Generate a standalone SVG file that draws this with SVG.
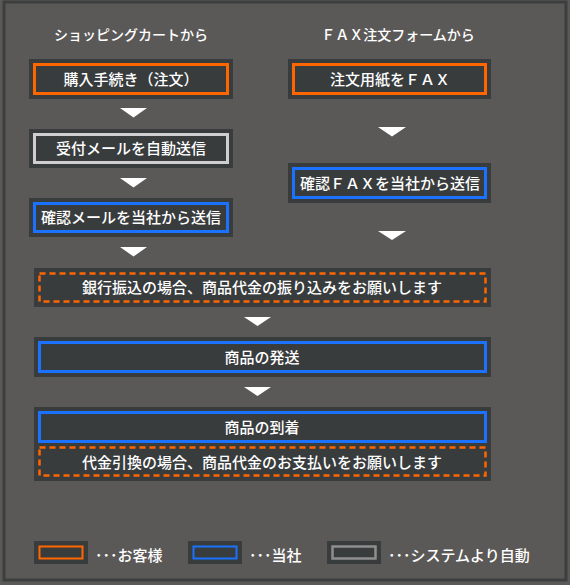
<svg xmlns="http://www.w3.org/2000/svg" width="570" height="585" viewBox="0 0 570 585">
<style>
.bg{fill:#5b5957}
.frame{fill:none;stroke:#3c3e3f;stroke-width:3}
.box{fill:#393c3d}
.o{fill:none;stroke:#ff6600;stroke-width:3}
.od{fill:none;stroke:#ff6600;stroke-width:2.5;stroke-dasharray:6 4}
.b{fill:none;stroke:#1a72ff;stroke-width:3}
.g{fill:none;stroke:#cfcfcf;stroke-width:3}
.lg{fill:none;stroke:#8e8e8e;stroke-width:2.5}
.arr{fill:#ffffff}
text{font-family:"Noto Sans CJK JP","Noto Sans",sans-serif;fill:#ffffff;font-size:15px;font-weight:500;text-anchor:middle}
.t{font-size:14px}
.l{text-anchor:start}
</style>
<rect class="bg" x="0" y="0" width="570" height="585"/>
<rect class="frame" x="4" y="2" width="562" height="578"/>
<text class="t" x="131" y="40">ショッピングカートから</text>
<text class="t" x="398" y="40">ＦＡＸ注文フォームから</text>
<g id="n1"><rect class="box" x="29" y="59" width="204" height="40"/><rect class="o" x="34.5" y="64.5" width="193" height="29"/><text x="131" y="84.5">購入手続き（注文）</text></g>
<g id="n2"><rect class="box" x="29" y="129" width="204" height="39"/><rect class="g" x="34.5" y="134.5" width="193" height="28"/><text x="131" y="154">受付メールを自動送信</text></g>
<g id="n3"><rect class="box" x="29" y="198" width="204" height="39"/><rect class="b" x="34.5" y="203.5" width="193" height="28"/><text x="131" y="223">確認メールを当社から送信</text></g>
<g id="n4"><rect class="box" x="288" y="59" width="203" height="40"/><rect class="o" x="293.5" y="64.5" width="192" height="29"/><text x="390" y="84.5">注文用紙をＦＡＸ</text></g>
<g id="n5"><rect class="box" x="288" y="163" width="203" height="40"/><rect class="b" x="293.5" y="168.5" width="192" height="29"/><text x="390" y="188.5">確認ＦＡＸを当社から送信</text></g>
<g id="n6"><rect class="box" x="34" y="268" width="457" height="39"/><rect class="od" x="39.5" y="273.5" width="446" height="28"/><text x="262" y="293">銀行振込の場合、商品代金の振り込みをお願いします</text></g>
<g id="n7"><rect class="box" x="34" y="337" width="457" height="40"/><rect class="b" x="39.5" y="342.5" width="446" height="29"/><text x="262" y="362.5">商品の発送</text></g>
<g id="n8"><rect class="box" x="34" y="407" width="457" height="74"/><rect class="b" x="39.5" y="412.5" width="446" height="29"/><text x="262" y="432.5">商品の到着</text><rect class="od" x="39.5" y="447.5" width="446" height="28"/><text x="262" y="467.5">代金引換の場合、商品代金のお支払いをお願いします</text></g>
<g id="connectors">
<polygon class="arr" points="120,108 147,108 133.5,117.5"/>
<polygon class="arr" points="120,178 147,178 133.5,187.5"/>
<polygon class="arr" points="120,247 147,247 133.5,256.5"/>
<polygon class="arr" points="378,127 406,127 392,136.5"/>
<polygon class="arr" points="378,231 406,231 392,240"/>
<polygon class="arr" points="244,317 271,317 257.5,326"/>
<polygon class="arr" points="244,387 271,387 257.5,396"/>
</g>
<g id="legend">
<rect class="box" x="34" y="541" width="54" height="23"/><rect class="o" x="39.5" y="546.5" width="43" height="12" style="stroke-width:2"/>
<text class="l" x="95" y="561">･･･お客様</text>
<rect class="box" x="188" y="541" width="54" height="23"/><rect class="b" x="193.5" y="546.5" width="43" height="12" style="stroke-width:2"/>
<text class="l" x="249" y="561">･･･当社</text>
<rect class="box" x="327" y="541" width="54" height="23"/><rect class="lg" x="332.5" y="546.5" width="43" height="12"/>
<text class="l" x="388" y="561">･･･システムより自動</text>
</g>
</svg>
